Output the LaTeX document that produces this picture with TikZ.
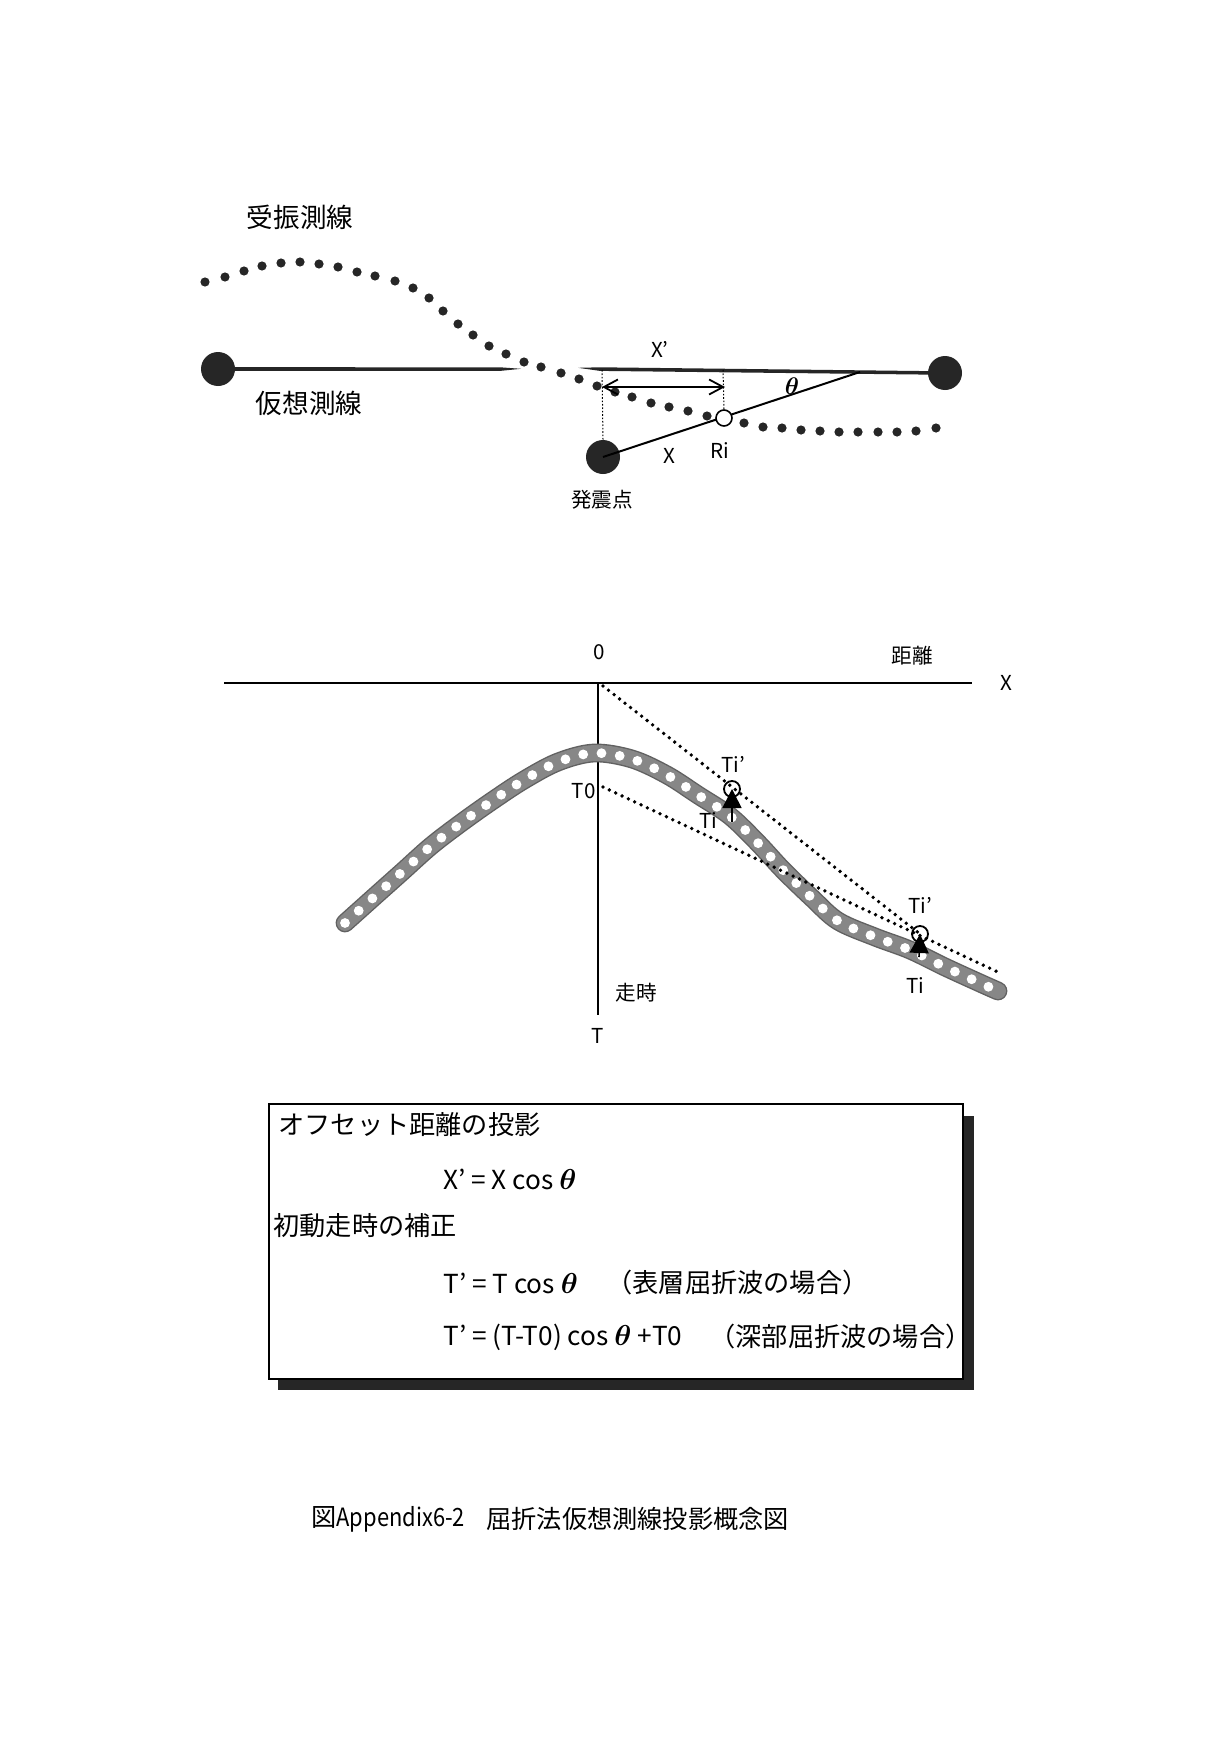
\documentclass[tikz,border=0pt]{standalone}
\usepackage{fontspec}
\setmainfont{Noto Sans CJK JP}
\newfontfamily\narrowlatin{Noto Sans CJK JP}[FakeStretch=0.87]
\newcommand{\thetasym}{{\boldmath$\theta$}}
\usetikzlibrary{arrows.meta}
\begin{document}
\begin{tikzpicture}[x=0.5pt,y=-0.5pt,
  bigc/.style={circle, fill=black!85, minimum size=17pt, inner sep=0pt},
  openc/.style={circle, draw=black, fill=white, line width=0.8pt, minimum size=8pt, inner sep=0pt},
  ticirc/.style={circle, draw=black, line width=0.9pt, minimum size=8pt, inner sep=0pt},
  lbl/.style={inner sep=0pt, font=\fontsize{10.3}{12}\selectfont},
  biglbl/.style={inner sep=0pt, font=\fontsize{13.3}{16}\selectfont},
  boxtxt/.style={inner sep=0pt, anchor=west, font=\fontsize{13.1}{16}\selectfont},
  captxt/.style={inner sep=0pt, anchor=west, font=\fontsize{12.6}{16}\selectfont},
  finedot/.style={line width=0.5pt, dash pattern=on 0.8pt off 0.9pt},
  traveldots/.style={line width=1.9pt, line cap=round, dash pattern=on 0pt off 3.5pt},
  axisline/.style={line width=0.8pt},
  uparrow/.style={line width=0.8pt, -{Triangle[length=9.5pt,width=9.5pt]}},
  dbarrow/.style={line width=0.9pt, {Straight Barb[length=7pt,width=7.5pt]}-{Straight Barb[length=7pt,width=7.5pt]}},
]
\useasboundingbox (0,0) rectangle (1228,1755);
\fill[white] (0,0) rectangle (1228,1755);

% ---------------- top part ----------------
\node[biglbl] (jushin) at (300,217) {受振測線};
\node[biglbl] (kaso) at (309,403) {仮想測線};

% receiver line dots
\foreach \p in {(205,282),(225,277),(244,271),(262,266),(281,263),(300,262),(319,264),(338,267),(357,272),(375,276),(395,281),(413,288),(429,298),(443,311),(458,324),(473,335),(489,346),(506,354),(524,362),(541,367),(561,373),(579,379),(597,386),(615,392),(632,397),(651,403),(669,407),(688,411),(707,416),(744,423),(763,427),(782,428),(801,430),(820,431),(839,432),(858,432),(878,432),(897,432),(916,431),(936,428)}
  \fill[black!85] \p circle (4.6);

% virtual line
\node[bigc] (L) at (218,369) {};
\node[bigc] (R) at (945,373) {};
\fill[black!85] (218,367.2) -- (500,367.3) -- (521,368.8) -- (500,370.9) -- (218,370.9) -- cycle;
\fill[black!85] (578,367.8) -- (600,367.3) -- (945,371.3) -- (945,374.8) -- (600,370.9) -- cycle;

% shot point and projection
\node[bigc] (S) at (603,457) {};
\coordinate (P) at (860,372);
\draw[line width=1pt] (S.center) -- (P);
\node[openc] (Ri) at (724,418) {};
\coordinate (a1) at (602,370);
\coordinate (a2) at (723,370);
\draw[finedot] (a1) -- (S.north);
\draw[finedot] (a2) -- (Ri.north);
\coordinate (b1) at (602,387);
\coordinate (b2) at (725,387);
\draw[dbarrow] (b1) -- (b2);

\node[lbl] (xp) at (660,349) {X'};
\node[lbl, font=\fontsize{11.5}{12}\selectfont] (th) at (792,386) {\thetasym};
\node[lbl] (xx) at (669,456) {X};
\node[lbl] (rilbl) at (720,451) {Ri};
\node[lbl] (hassin) at (602,500) {発震点};

% ---------------- middle part ----------------
\coordinate (O) at (598,683);
\coordinate (Xend) at (972,683);
\coordinate (Xstart) at (224,683);
\coordinate (Tend) at (598,1015);
\draw[axisline] (Xstart) -- (Xend);
\draw[axisline] (O) -- (Tend);

\node[lbl] (zero) at (599,652) {0};
\node[lbl] (kyori) at (912,656) {距離};
\node[lbl] (xlab) at (1006,683) {X};
\node[lbl] (tlab) at (598,1036) {T};
\node[lbl] (soji) at (636,993) {走時};
\node[lbl, anchor=east] (t0) at (596,791) {T0};

% travel time band
\def\bandpath{plot[smooth, tension=0.55] coordinates {(345,923) (374,897) (402,872) (431,846) (461,823) (492,801) (524,780) (558,762) (594,753) (632,759) (667,775) (698,795) (730,816) (758,843) (783,870) (812,898) (838,921) (875,937) (910,950) (945,967) (980,983) (998,991)}}
\draw[black!62, line width=9.4pt, line cap=round, line join=round] \bandpath;
\draw[black!47, line width=8pt, line cap=round, line join=round] \bandpath;
\draw[white, line width=4.9pt, line cap=round, dash pattern=on 0pt off 9.2pt] \bandpath;

% projected lines
\coordinate (A0) at (603,686);
\coordinate (B0) at (603,787);
\coordinate (Bend) at (1000,973);
\node[ticirc] (c1) at (732,789) {};
\node[ticirc] (c2) at (920,934) {};
\draw[traveldots] (A0) -- (c2.center);
\draw[traveldots] (B0) -- (Bend);

\coordinate (Ti1) at (732,822);
\coordinate (Ti2) at (919,957);
\draw[uparrow] (Ti1) -- (c1.center);
\draw[uparrow] (Ti2) -- (c2.center);

\node[lbl] (tip1) at (733,764) {Ti'};
\node[lbl] (ti1) at (708,821) {Ti};
\node[lbl] (tip2) at (920,905) {Ti'};
\node[lbl] (ti2) at (915,986) {Ti};

% ---------------- formula box ----------------
\fill[black!85] (278,1116) rectangle (974,1390);
\draw[fill=white, line width=0.8pt] (269,1104) rectangle (963,1379);
\node[boxtxt] (f1) at (278,1125) {オフセット距離の投影};
\node[boxtxt] (f2) at (443,1179) {X' = X cos {\fontsize{14.5}{16}\selectfont\thetasym}};
\node[boxtxt] (f3) at (273,1226) {初動走時の補正};
\node[boxtxt] (f4) at (443,1283) {T' = T cos {\fontsize{14.5}{16}\selectfont\thetasym}};
\node[boxtxt] (f5) at (606,1283) {（表層屈折波の場合）};
\node[boxtxt] (f6) at (443,1337) {T' = (T-T0) cos {\fontsize{14.5}{16}\selectfont\thetasym} +T0};
\node[boxtxt] (f7) at (709,1337) {（深部屈折波の場合）};

% ---------------- caption ----------------
\node[captxt] (cap1) at (311,1519) {図{\narrowlatin Appendix6-2}};
\node[captxt] (cap2) at (486,1519) {屈折法仮想測線投影概念図};
\end{tikzpicture}
\end{document}
